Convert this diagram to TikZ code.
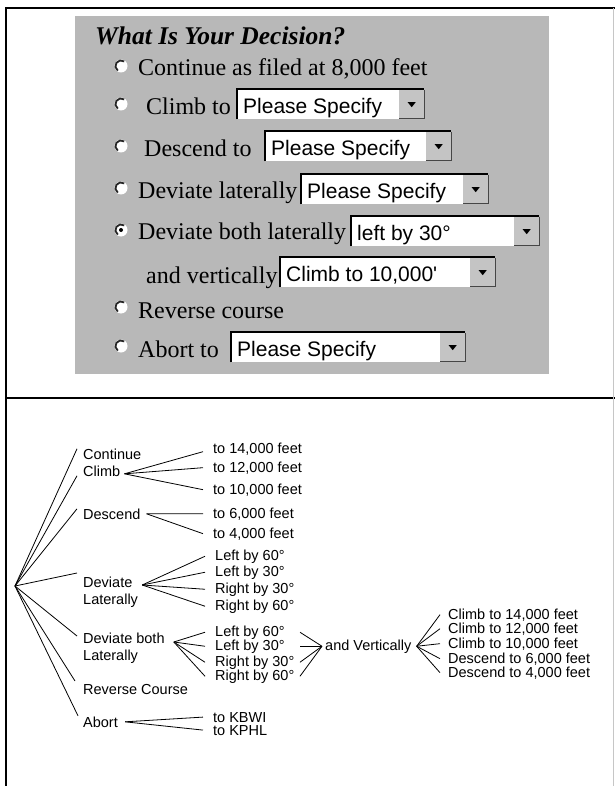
\documentclass[tikz,border=0pt]{standalone}
\usepackage{fontspec}
\setmainfont{Liberation Serif}
\newfontfamily\lsans{Liberation Sans}
\usetikzlibrary{calc}
\definecolor{panelgray}{RGB}{184,184,184}
\definecolor{btngray}{RGB}{196,196,196}
\definecolor{shadowgray}{RGB}{70,70,70}
\tikzset{
  optxt/.style={anchor=base west, inner sep=0pt, font=\fontsize{24}{28}\selectfont},
  titletxt/.style={anchor=base west, inner sep=0pt, font=\fontsize{25.5}{30}\selectfont\bfseries\itshape},
  ddfield/.style={fill=white, draw=none, minimum height=30pt, inner sep=0pt, anchor=north west},
  ddtext/.style={anchor=base west, inner sep=0pt, font=\lsans\fontsize{21}{25}\selectfont},
  ddbtn/.style={fill=btngray, minimum width=25pt, minimum height=28pt, inner sep=0pt, anchor=north east},
  radiobox/.style={circle, fill=white, minimum size=13pt, inner sep=0pt},
  lbl/.style={anchor=base west, inner sep=0pt, font=\lsans\fontsize{14.5}{17}\selectfont},
  lbltwo/.style={anchor=north west, inner sep=0pt, align=left, font=\lsans\fontsize{14.5}{17}\selectfont},
  link/.style={line width=0.8pt},
  frameline/.style={line width=1.5pt},
}
\newcommand\dropbox[5]{%
  \node[ddfield, minimum width=#4pt] (#1) at (#2,#3) {};
  \node[ddtext] (#1t) at ([xshift=6pt,yshift=6pt]#1.south west) {#5};
  \node[ddbtn] (#1b) at ([yshift=-1pt]#1.north east) {};
  \draw[line width=1.5pt, black] (#1.south west) -- (#1.north west) -- (#1.north east);
  \draw[line width=1.5pt, shadowgray] (#1b.north east) -- (#1b.south east) -- (#1b.south west);
  \fill ([xshift=-4pt,yshift=2pt]#1b.center) -- ([xshift=4pt,yshift=2pt]#1b.center) -- ([yshift=-3pt]#1b.center) -- cycle;
}
\newcommand\radiobtn[3]{%
  \node[radiobox] (#1) at (#2,#3) {};
  \draw[line width=1.8pt, black!85] ([shift={(55:5.6pt)}]#1.center) arc[start angle=55, end angle=235, radius=5.6pt];
}
\begin{document}
\begin{tikzpicture}[x=1pt, y=-1pt]
\useasboundingbox (0,0) rectangle (615,786);
% frame
\draw[frameline] (6,786) -- (6,8) -- (615,8);
\draw[frameline] (6,398) -- (615,398);
\draw[gray!45, line width=1pt] (613.5,8) -- (613.5,786);
% upper panel
\fill[panelgray] (75,16) rectangle (549,374);
\node[titletxt] (title) at (95,45) {What Is Your Decision?};
\radiobtn{r1}{121}{66}
\node[optxt] (o1) at (138,76) {Continue as filed at 8,000 feet};
\radiobtn{r2}{121}{104}
\node[optxt] (o2) at (146,115) {Climb to};
\dropbox{dd2}{237}{89}{187}{Please Specify}
\radiobtn{r3}{121}{146}
\node[optxt] (o3) at (144,157) {Descend to};
\dropbox{dd3}{265}{131}{186}{Please Specify}
\radiobtn{r4}{121}{188}
\node[optxt] (o4) at (138,199) {Deviate laterally};
\dropbox{dd4}{301}{174}{187}{Please Specify}
\radiobtn{r5}{121}{230}
\fill (r5.center) circle[radius=2pt];
\node[optxt] (o5) at (138,240) {Deviate both laterally};
\dropbox{dd5}{351}{216}{188}{left by 30°}
\node[optxt] (o6) at (146,283) {and vertically};
\dropbox{dd6}{280}{257}{215}{Climb to 10,000\textquotesingle}
\radiobtn{r7}{121}{307}
\node[optxt] (o7) at (138,318) {Reverse course};
\radiobtn{r8}{121}{346}
\node[optxt] (o8) at (138,357) {Abort to};
\dropbox{dd8}{231}{332}{234}{Please Specify}
% lower diagram
\coordinate (root) at (15,586);
\node[lbl] (cont) at (83,459) {Continue};
\node[lbl] (climb) at (83,476) {Climb};
\node[lbl] (desc) at (83,519) {Descend};
\node[lbltwo] (devlat) at (83,577) {Deviate\\Laterally};
\node[lbltwo] (devboth) at (83,633) {Deviate both\\Laterally};
\node[lbl] (rev) at (83,694) {Reverse Course};
\node[lbl] (abort) at (83,727) {Abort};
\node[lbl] (c14) at (213,453) {to 14,000 feet};
\node[lbl] (c12) at (213,472) {to 12,000 feet};
\node[lbl] (c10) at (213,494) {to 10,000 feet};
\node[lbl] (ds6) at (213,518) {to 6,000 feet};
\node[lbl] (ds4) at (213,538) {to 4,000 feet};
\node[lbl] (la60) at (215,560) {Left by 60°};
\node[lbl] (la30) at (215,576) {Left by 30°};
\node[lbl] (ra30) at (215,593) {Right by 30°};
\node[lbl] (ra60) at (215,610) {Right by 60°};
\node[lbl] (lb60) at (215,636) {Left by 60°};
\node[lbl] (lb30) at (215,650) {Left by 30°};
\node[lbl] (rb30) at (215,666) {Right by 30°};
\node[lbl] (rb60) at (215,680) {Right by 60°};
\node[lbl] (andv) at (325,650) {and Vertically};
\node[lbl] (v14) at (448,619) {Climb to 14,000 feet};
\node[lbl] (v12) at (448,633) {Climb to 12,000 feet};
\node[lbl] (v10) at (448,648) {Climb to 10,000 feet};
\node[lbl] (v6) at (448,663) {Descend to 6,000 feet};
\node[lbl] (v4) at (448,677) {Descend to 4,000 feet};
\node[lbl] (kbwi) at (213,722) {to KBWI};
\node[lbl] (kphl) at (213,735) {to KPHL};
% root connectors
\draw[link] (root) -- ([xshift=-6pt,yshift=5pt]cont.west);
\draw[link] (root) -- ([xshift=-6pt,yshift=-5pt]climb.west);
\draw[link] (root) -- ([xshift=-6pt,yshift=5pt]desc.west);
\draw[link] (root) -- ([xshift=-6pt,yshift=4pt]devlat.north west);
\draw[link] (root) -- ([xshift=-6pt,yshift=-3pt]devboth.north west);
\draw[link] (root) -- ([xshift=-8pt,yshift=8pt]rev.west);
\draw[link] (root) -- ([xshift=-5pt,yshift=6pt]abort.west);
% fans
\coordinate (climbfan) at ([xshift=4pt,yshift=-3pt]climb.east);
\draw[link] (climbfan) -- ([xshift=-10pt,yshift=-3pt]c14.west);
\draw[link] (climbfan) -- ([xshift=-10pt]c12.west);
\draw[link] (climbfan) -- ([xshift=-10pt]c10.west);
\coordinate (descfan) at ([xshift=6pt]desc.east);
\draw[link] (descfan) -- ([xshift=-10pt]ds6.west);
\draw[link] (descfan) -- ([xshift=-10pt]ds4.west);
\coordinate (latfan) at ([xshift=4pt,yshift=-8pt]devlat.north east);
\foreach \t in {la60,la30,ra30,ra60}{\draw[link] (latfan) -- ([xshift=-10pt]\t.west);}
\coordinate (bothfan) at ([xshift=9pt,yshift=-9pt]devboth.north east);
\foreach \t in {lb60,lb30,rb30,rb60}{\draw[link] (bothfan) -- ([xshift=-10pt]\t.west);}
\coordinate (gx) at (300,0);
\coordinate (apexl) at ([xshift=-3pt]andv.west);
\foreach \t in {lb60,lb30,rb30,rb60}{\draw[link] (\t.west -| gx) -- (apexl);}
\coordinate (vertfan) at ([xshift=5pt]andv.east);
\foreach \t in {v14,v12,v10,v6,v4}{\draw[link] (vertfan) -- ([xshift=-8pt]\t.west);}
\coordinate (abortfan) at ([xshift=7pt]abort.east);
\draw[link] (abortfan) -- ([xshift=-10pt]kbwi.west);
\draw[link] (abortfan) -- ([xshift=-10pt]kphl.west);
\end{tikzpicture}
\end{document}
